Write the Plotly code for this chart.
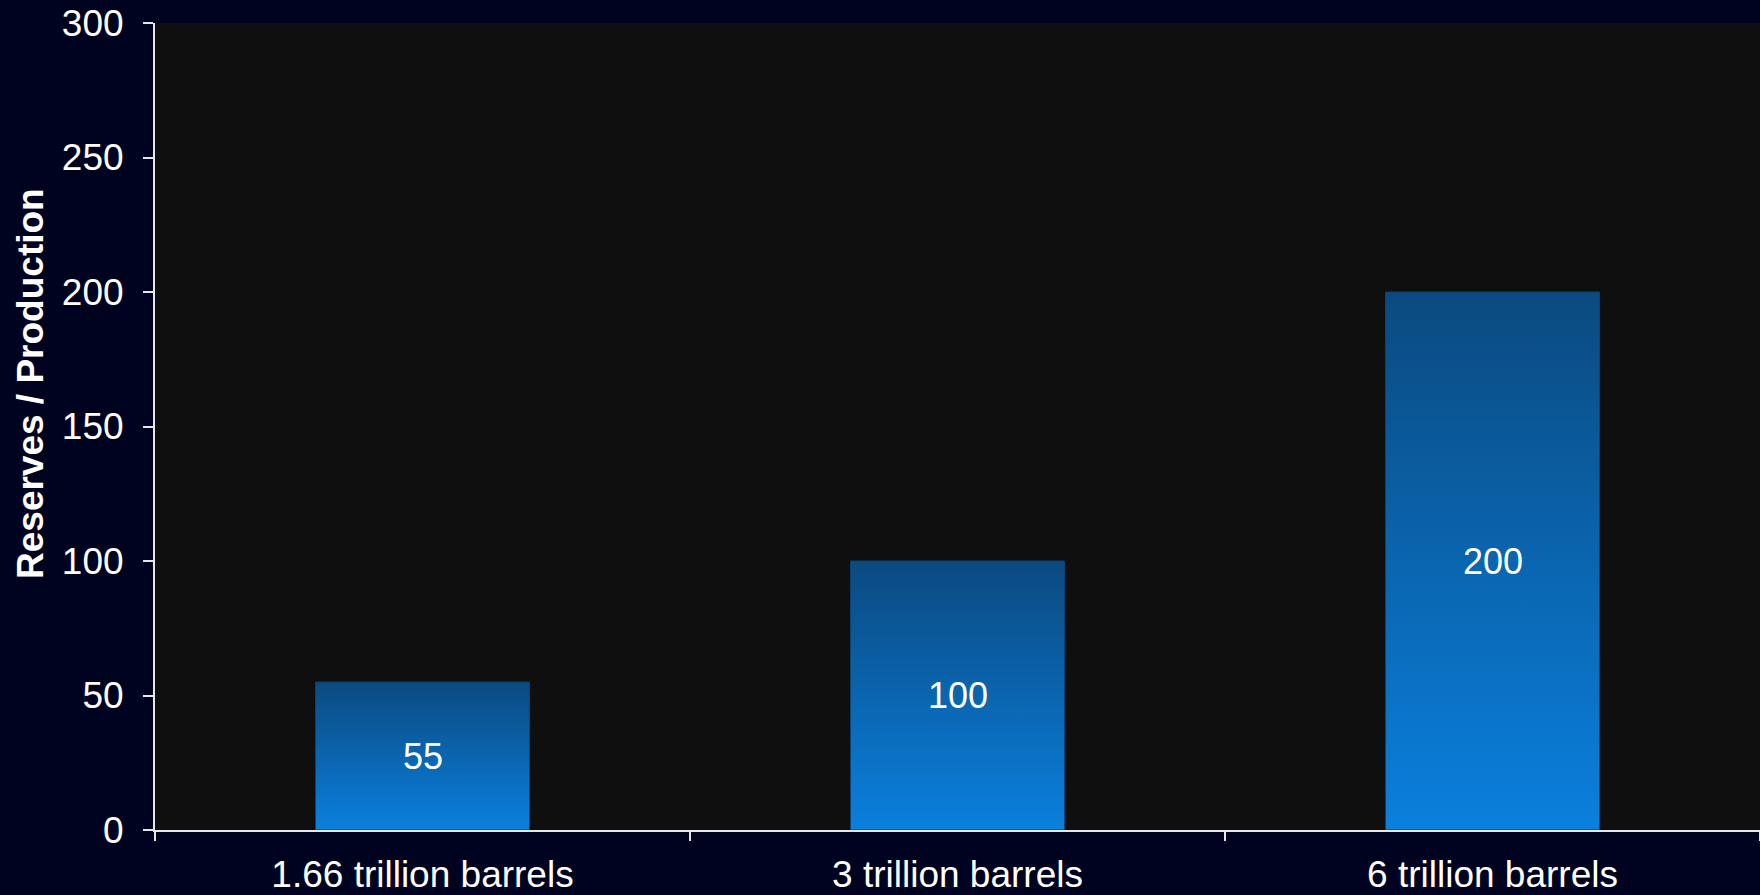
import plotly.graph_objects as go

categories = ["1.66 trillion barrels", "3 trillion barrels", "6 trillion barrels"]
values = [55, 100, 200]
y_ticks = [0, 50, 100, 150, 200, 250, 300]

BAR_W = 0.4
FONT = "Liberation Sans, Arial, sans-serif"
AXIS_C = "#e6e6e6"

fig = go.Figure()
for i, v in enumerate(values):
    x0, x1 = i - BAR_W / 2, i + BAR_W / 2
    fig.add_trace(go.Scatter(
        x=[x0, x0, x1, x1, x0], y=[0, v, v, 0, 0],
        mode="lines", fill="toself",
        line=dict(color="#0b4274", width=1),
        fillgradient=dict(type="vertical", start=0, stop=v,
                          colorscale=[[0, "#0a80de"], [1, "#0b4a80"]]),
        hoverinfo="skip", showlegend=False,
    ))
    fig.add_annotation(
        x=i, y=v / 2, xref="x", yref="y", text=str(v), showarrow=False,
        xanchor="center", yanchor="middle",
        font=dict(family=FONT, size=36, color="white"),
    )

fig.update_layout(
    width=1760, height=895,
    margin=dict(l=155, r=0, t=23, b=65),
    paper_bgcolor="#00031f", plot_bgcolor="#0f0f0f",
    font=dict(family=FONT, color="white"),
    showlegend=False,
)
fig.update_xaxes(
    range=[-0.5, len(values) - 0.5],
    tickmode="array", tickvals=list(range(len(values))), ticktext=categories,
    ticks="", showgrid=False, zeroline=False,
    showline=True, linecolor=AXIS_C, linewidth=2,
    tickfont=dict(family=FONT, size=37, color="white"),
    ticklabelstandoff=11,
    minor=dict(tickmode="array",
               tickvals=[i - 0.5 for i in range(len(values) + 1)],
               ticks="outside", ticklen=9, tickwidth=2, tickcolor=AXIS_C,
               showgrid=False),
)
fig.update_yaxes(
    range=[0, 300], tickmode="array", tickvals=y_ticks,
    ticks="outside", ticklen=10, tickwidth=2, tickcolor=AXIS_C,
    showgrid=False, zeroline=False,
    showline=True, linecolor=AXIS_C, linewidth=2,
    tickfont=dict(family=FONT, size=37, color="white"),
    ticklabelstandoff=12,
)
fig.add_annotation(
    text="<b>Reserves / Production</b>", textangle=-90,
    xref="paper", yref="paper", x=(30 - 155) / 1605, y=(830 - 384) / 807,
    xanchor="center", yanchor="middle", showarrow=False,
    font=dict(family=FONT, size=37, color="white"),
)
fig.write_html("out.html")
